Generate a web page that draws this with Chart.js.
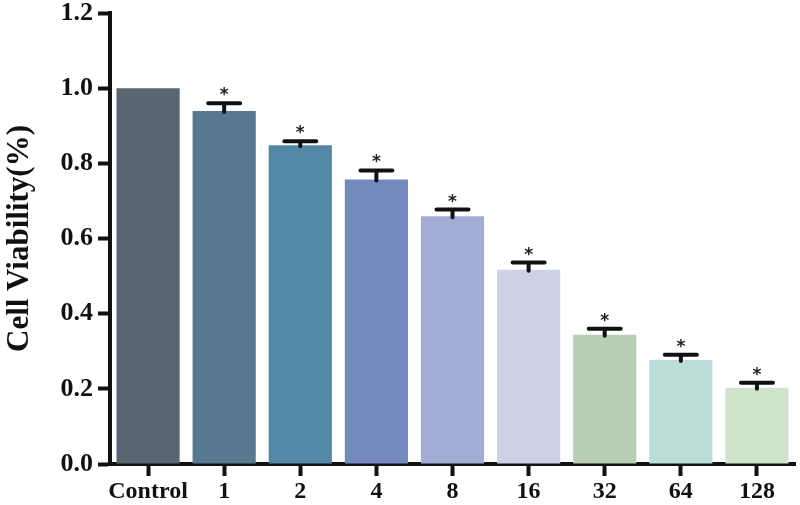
<!DOCTYPE html>
<html>
<head>
<meta charset="utf-8">
<script src="https://cdn.jsdelivr.net/npm/chart.js@4.4.0/dist/chart.umd.min.js"></script>
<style>
  html, body { margin: 0; padding: 0; background: #fff; }
  #wrap { width: 800px; height: 505px; }
</style>
</head>
<body>
<div id="wrap"><canvas id="myChart" width="800" height="505"></canvas></div>
<script>
// data
var doses = ["Control", "1", "2", "4", "8", "16", "32", "64", "128"];
var viability = [1.0, 0.939, 0.848, 0.757, 0.659, 0.517, 0.344, 0.277, 0.203];
var errUp = [0, 0.021, 0.011, 0.024, 0.018, 0.019, 0.016, 0.014, 0.013];
var starred = [false, true, true, true, true, true, true, true, true];
var yTicks = [0, 0.2, 0.4, 0.6, 0.8, 1.0, 1.2];

var barColors = ["#5a6572", "#577a91", "#5287a6", "#7489bd", "#a2acd4",
                 "#cdd1e6", "#bacdb6", "#bcdcd8", "#d0e4cb"];

var fontFam = "'Liberation Serif', 'Times New Roman', serif";

// error bars + asterisks drawn on top of the bars
var errorBars = {
  id: "errorBars",
  afterDatasetsDraw: function (chart) {
    var ctx = chart.ctx;
    var yScale = chart.scales.y;
    var meta = chart.getDatasetMeta(0);
    ctx.save();
    for (var i = 0; i < meta.data.length; i++) {
      if (!errUp[i]) continue;
      var bar = meta.data[i];
      var x = bar.x;
      var yTop = yScale.getPixelForValue(viability[i] + errUp[i]);
      ctx.strokeStyle = "#111";
      ctx.lineWidth = 4;
      ctx.lineCap = "round";
      ctx.beginPath();
      ctx.moveTo(x, bar.y + 1);
      ctx.lineTo(x, yTop);
      ctx.moveTo(x - 16, yTop);
      ctx.lineTo(x + 16, yTop);
      ctx.stroke();
      if (starred[i]) {
        ctx.fillStyle = "#222";
        ctx.font = "bold 17px 'DejaVu Sans', sans-serif";
        ctx.textAlign = "center";
        ctx.textBaseline = "alphabetic";
        ctx.fillText("*", x, yTop - 3);
      }
    }
    ctx.restore();
  }
};

var ctx = document.getElementById("myChart").getContext("2d");
var chart = new Chart(ctx, {
  type: "bar",
  data: {
    labels: doses,
    datasets: [{
      data: viability,
      backgroundColor: barColors,
      borderWidth: 0,
      barPercentage: 0.83,
      categoryPercentage: 1.0
    }]
  },
  options: {
    responsive: false,
    animation: false,
    layout: { padding: { top: 13, right: 5, left: 0, bottom: 0 } },
    plugins: {
      legend: { display: false },
      tooltip: { enabled: false }
    },
    scales: {
      x: {
        grid: {
          display: true,
          drawOnChartArea: false,
          offset: false,
          tickLength: 12,
          tickWidth: 4,
          tickColor: "#111"
        },
        border: { display: true, color: "#111", width: 4 },
        ticks: {
          color: "#111",
          padding: 1,
          autoSkip: false,
          minRotation: 0,
          maxRotation: 0,
          font: { family: fontFam, size: 24, weight: "bold" }
        },
        afterFit: function (scale) {
          scale.height = 41;
          scale.paddingLeft = 0;
          scale.paddingRight = 0;
        }
      },
      y: {
        min: 0,
        max: 1.2,
        afterBuildTicks: function (scale) {
          scale.ticks = yTicks.map(function (v) { return { value: v }; });
        },
        grid: {
          display: true,
          drawOnChartArea: false,
          tickLength: 12,
          tickWidth: 4,
          tickColor: "#111"
        },
        border: { display: true, color: "#111", width: 4 },
        ticks: {
          color: "#111",
          padding: 5,
          font: { family: fontFam, size: 26, weight: "bold" },
          callback: function (v) { return Number(v).toFixed(1); }
        },
        title: {
          display: true,
          text: "Cell Viability(%)",
          color: "#111",
          padding: { top: 1, bottom: 0 },
          font: { family: fontFam, size: 31, weight: "bold" }
        },
        afterFit: function (scale) {
          scale.width = 110;
          scale.paddingTop = 0;
          scale.paddingBottom = 0;
        }
      }
    }
  },
  plugins: [errorBars]
});
</script>
</body>
</html>
